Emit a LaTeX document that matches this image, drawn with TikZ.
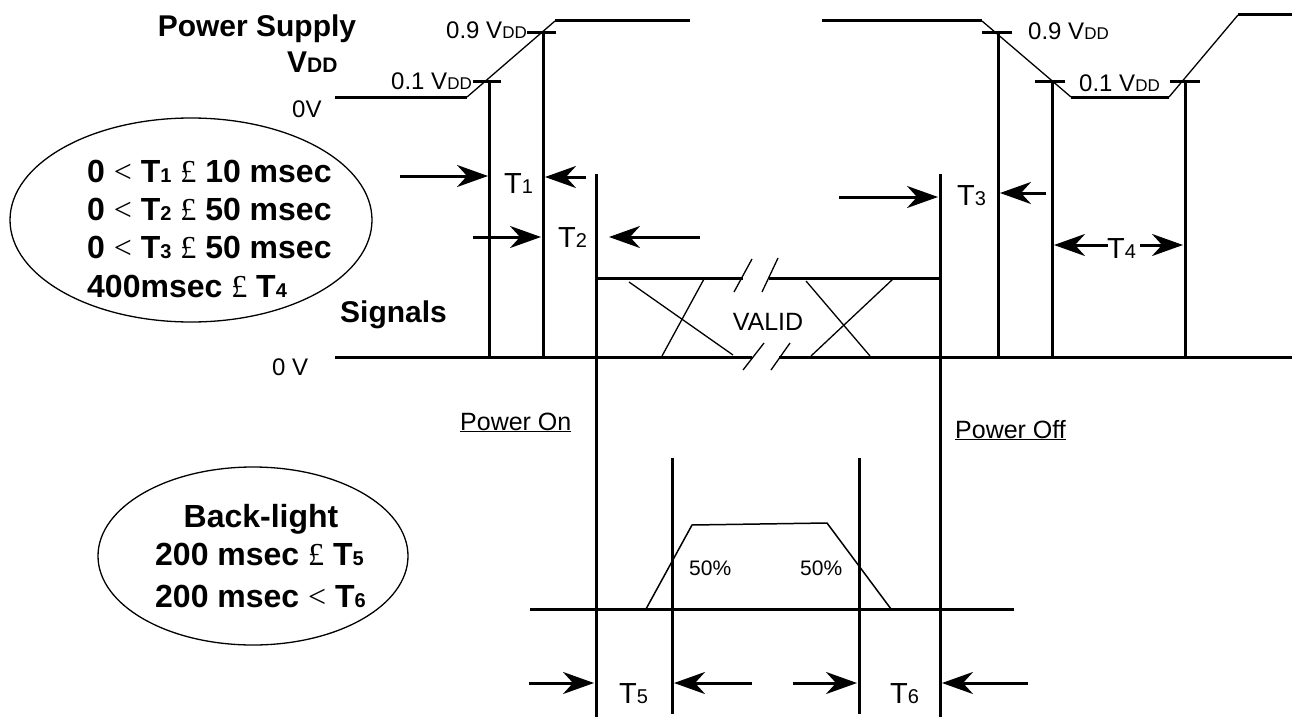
\documentclass[tikz,border=0pt]{standalone}
\usepackage{fontspec}
\setmainfont{Liberation Sans}
\newfontfamily\serf{Liberation Serif}
\usetikzlibrary{arrows.meta}
\newcommand\fs[2]{{\fontsize{#1}{#1}\selectfont #2}}
\newcommand\sy[1]{{\serf\mdseries #1}}
\begin{document}
\begin{tikzpicture}[x=1pt,y=-1pt,
  thk/.style={line width=3pt},
  thn/.style={line width=1.3pt},
  arr/.style={line width=3pt,-{Stealth[length=31pt,width=22pt,inset=10pt]}},
  txt/.style={inner sep=0pt,anchor=base west},
  hd/.style={txt,font=\fontsize{30}{30}\selectfont\bfseries},
  el/.style={txt,font=\fontsize{32}{32}\selectfont\bfseries},
  lv/.style={txt,font=\fontsize{24}{24}\selectfont},
  tl/.style={txt,font=\fontsize{29}{29}\selectfont},
  ul/.style={txt,font=\fontsize{25}{25}\selectfont},
]
\useasboundingbox (0,0) rectangle (1292,717);

% ---------- headings
\node[hd,anchor=base] (ps) at (257,37) {Power Supply};
\node[hd] (vdd) at (287,73) {V\fs{21}{DD}};
\node[lv] (zv) at (292,117) {0V};
\node[hd] (sig) at (340,322) {Signals};
\node[lv] (zv2) at (272,375) {0 V};

% ---------- power supply waveform
\draw[thk] (335,97) -- (467,97);
\draw[thn] (467,97) -- (555,21);
\draw[thk] (555,21) -- (690,21);
\draw[thk] (822,21) -- (982,21);
\draw[thn] (982,21) -- (1071,97);
\draw[thk] (1071,97) -- (1169,97);
\draw[thn] (1169,97) -- (1238,15);
\draw[thk] (1238,15) -- (1292,15);

% threshold ticks and labels
\node[lv,anchor=base east] (l09a) at (527,38) {0.9 V\fs{17}{DD}};
\node[lv,anchor=base east] (l01a) at (472,89) {0.1 V\fs{17}{DD}};
\node[lv] (l09b) at (1028,40) {0.9 V\fs{17}{DD}};
\node[lv] (l01b) at (1079,91) {0.1 V\fs{17}{DD}};
\draw[thk] (527,33) -- (556,33);
\draw[thk] (473,81) -- (501,81);
\draw[thk] (982,33) -- (1012,33);
\draw[thk] (1035,81) -- (1065,81);
\draw[thk] (1170,81) -- (1200,81);

% vertical marker lines
\draw[thk] (489,81) -- (489,357);
\draw[thk] (543,33) -- (543,357);
\draw[thk] (998,33) -- (998,357);
\draw[thk] (1052,81) -- (1052,357);
\draw[thk] (1185,81) -- (1185,357);
\draw[thk] (596,174) -- (596,717);
\draw[thk] (940,174) -- (940,717);

% ---------- signal base line and VALID box
\draw[thk] (335,357) -- (752,357);
\draw[thk] (779,357) -- (1292,357);
\draw[thk] (596,278) -- (743,278);
\draw[thk] (769,278) -- (940,278);
\draw[thn] (734,292) -- (752,259);
\draw[thn] (762,292) -- (778,258);
\draw[thn] (743,370) -- (764,343);
\draw[thn] (771,370) -- (790,343);
\draw[thn] (629,282) -- (733,355);
\draw[thn] (704,279) -- (662,356);
\draw[thn] (806,281) -- (870,356);
\draw[thn] (893,279) -- (811,356);
\node[txt,anchor=base,font=\fontsize{25}{25}\selectfont] (valid) at (768,330) {VALID};

% ---------- T1..T4
\draw[arr] (400,176) -- (488,176);
\node[tl] (t1) at (504,193) {T\fs{20}{1}};
\draw[arr] (586,177) -- (545,177);
\draw[arr] (473,237) -- (541,237);
\node[tl] (t2) at (558,247) {T\fs{20}{2}};
\draw[arr] (700,237) -- (609,237);
\draw[arr] (839,197) -- (938,197);
\node[tl] (t3) at (957,205) {T\fs{20}{3}};
\draw[arr] (1046,193) -- (1000,193);
\node[tl] (t4) at (1107,258) {T\fs{20}{4}};
\draw[arr] (1108,245) -- (1054,245);
\draw[arr] (1140,245) -- (1183,245);

% ---------- ellipse 1
\draw[line width=1.3pt] (191,220) ellipse [x radius=181, y radius=102];
\node[el] (e1a) at (87,182) {0 \sy{<} T\fs{20}{1} \sy{£} 10 msec};
\node[el] (e1b) at (87,220) {0 \sy{<} T\fs{20}{2} \sy{£} 50 msec};
\node[el] (e1c) at (87,258) {0 \sy{<} T\fs{20}{3} \sy{£} 50 msec};
\node[el] (e1d) at (87,297) {400msec \sy{£} T\fs{20}{4}};

% ---------- backlight
\node[ul] (pon) at (460,430) {\underline{Power On}};
\node[ul] (poff) at (955,438) {\underline{Power Off}};
\draw[thk] (672,458) -- (672,714);
\draw[thk] (859,458) -- (859,714);
\draw[thk] (530,609) -- (1014,609);
\draw[line width=1.5pt] (646,609) -- (692,525) -- (827,523) -- (891,609);
\node[txt,font=\fontsize{21}{21}\selectfont] (p50a) at (689,575) {50\%};
\node[txt,font=\fontsize{21}{21}\selectfont] (p50b) at (800,575) {50\%};

\draw[arr] (529,683) -- (594,683);
\node[tl] (t5) at (619,703) {T\fs{20}{5}};
\draw[arr] (752,683) -- (674,683);
\draw[arr] (793,683) -- (857,683);
\node[tl] (t6) at (890,703) {T\fs{20}{6}};
\draw[arr] (1028,683) -- (942,683);

% ---------- ellipse 2
\draw[line width=1.3pt] (253,556) ellipse [x radius=155, y radius=89];
\node[el,anchor=base] (e2a) at (261,527) {Back-light};
\node[el] (e2b) at (155,565) {200 msec \sy{£} T\fs{20}{5}};
\node[el] (e2c) at (155,607) {200 msec \sy{<} T\fs{20}{6}};
\end{tikzpicture}
\end{document}
